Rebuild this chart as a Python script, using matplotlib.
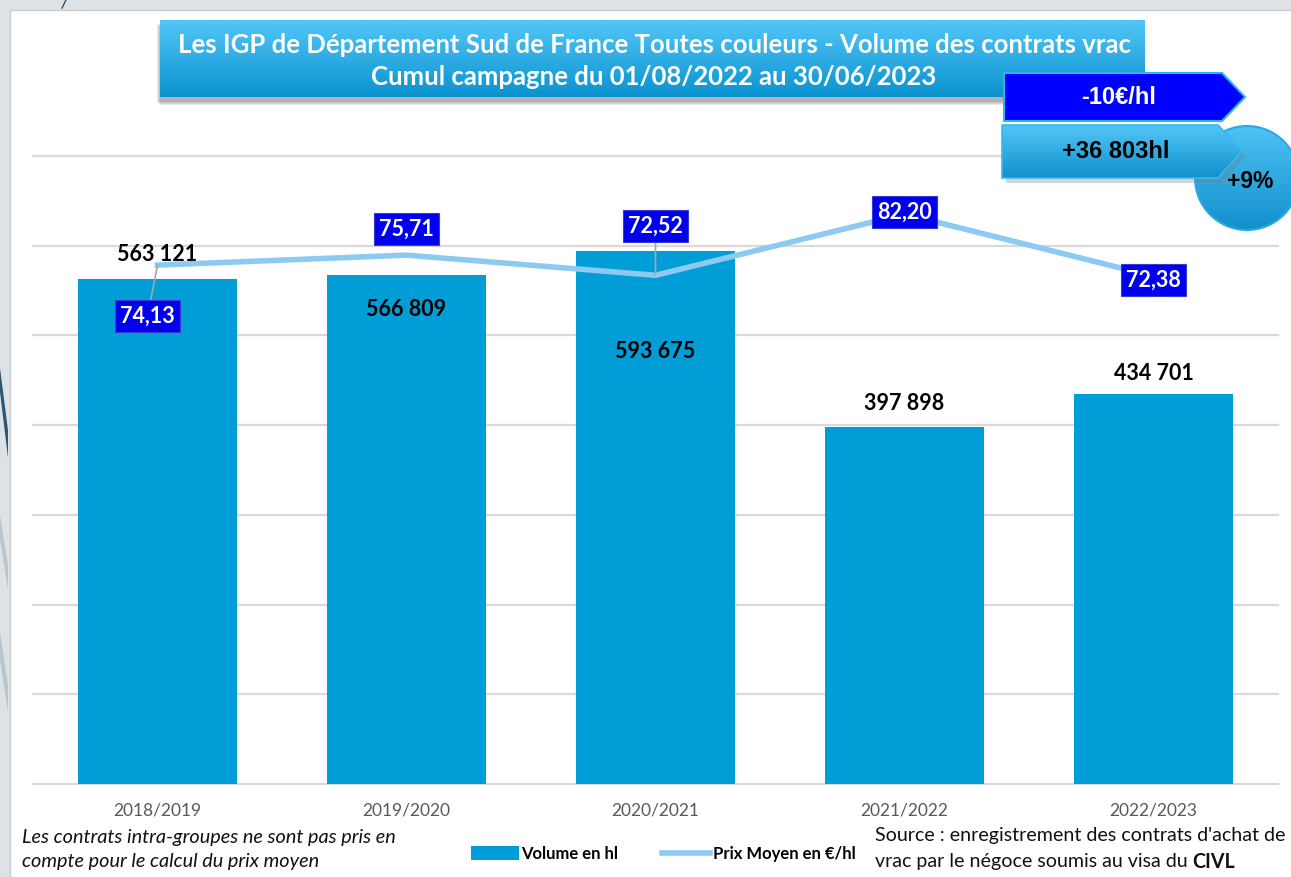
import numpy as np
import matplotlib
matplotlib.use("Agg")
import matplotlib.pyplot as plt
from matplotlib.patches import Rectangle, Polygon, Circle
from matplotlib.colors import LinearSegmentedColormap

campagnes = ["2018/2019", "2019/2020", "2020/2021", "2021/2022", "2022/2023"]
volumes_hl = [563121, 566809, 593675, 397898, 434701]
prix_moyen = [74.13, 75.71, 72.52, 82.20, 72.38]
volume_labels = ["563 121", "566 809", "593 675", "397 898", "434 701"]
prix_labels = ["74,13", "75,71", "72,52", "82,20", "72,38"]

title_lines = [
    "Les IGP de Département Sud de France Toutes couleurs - Volume des contrats vrac",
    "Cumul campagne du 01/08/2022 au 30/06/2023",
]
delta_prix = "-10€/hl"
delta_volume = "+36 803hl"
delta_pct = "+9%"

BAR = "#009dd6"
LINE = "#8ccaf2"
LABEL_BLUE = "#0000ee"
GRID = "#d9d9d9"
NARROW = ["Lato", "DejaVu Sans"]
BOLD = ["Lato", "DejaVu Sans"]
ARIAL = ["Liberation Sans", "DejaVu Sans"]

W, H = 1291, 877
fig = plt.figure(figsize=(W / 100, H / 100), dpi=100)
fig.patch.set_facecolor("#dde2e6")


def px_axes(zorder):
    a = fig.add_axes([0, 0, 1, 1], zorder=zorder)
    a.set_xlim(0, W)
    a.set_ylim(H, 0)
    a.axis("off")
    a.patch.set_alpha(0)
    return a


def gradient_fill(a, patch, top, bottom, zorder):
    patch.set_facecolor("none")
    a.add_patch(patch)
    ext = patch.get_path().transformed(patch.get_patch_transform()).get_extents()
    cmap = LinearSegmentedColormap.from_list("g", [top, bottom])
    im = a.imshow(np.linspace(0, 1, 64).reshape(-1, 1), cmap=cmap, aspect="auto",
                  extent=(ext.x0, ext.x1, ext.y1, ext.y0), zorder=zorder,
                  interpolation="bilinear")
    im.set_clip_path(patch)
    a.set_xlim(0, W)
    a.set_ylim(H, 0)


# slide background
bg = px_axes(0)
bg.add_patch(Rectangle((10, 10), W, H, facecolor="white", edgecolor="#c9ced2", lw=1))
bg.add_patch(Polygon([(0, 368), (0, 392), (8, 458), (8, 430)], facecolor="#2f5672", lw=0))
bg.add_patch(Polygon([(0, 515), (0, 540), (8, 590), (8, 565)], facecolor="#b8c6d0", lw=0))
bg.add_patch(Polygon([(0, 632), (0, 660), (8, 712), (8, 685)], facecolor="#b8c6d0", lw=0))
bg.plot([66, 62], [0, 8], color="#2f5672", lw=1)

# main chart
ax = fig.add_axes([33 / W, (H - 784) / H, (1278 - 33) / W, (784 - 156) / H], zorder=2)
ax.patch.set_alpha(0)
x = np.arange(len(campagnes))
bars = ax.bar(x, volumes_hl, width=0.64, color=BAR, zorder=2, label="Volume en hl")
ax.set_xlim(-0.5, len(campagnes) - 0.5)
ax.set_ylim(0, 700000)
ax.set_yticks(np.arange(0, 700001, 100000))
ax.yaxis.grid(True, color=GRID, lw=1.6)
ax.set_axisbelow(True)
for gl in ax.get_ygridlines():
    gl.set_clip_on(False)
ax.tick_params(axis="y", length=0, labelleft=False)
ax.set_xticks(x)
ax.set_xticklabels(campagnes, color="#595959", fontsize=12.5, family=NARROW)
ax.tick_params(axis="x", length=0, pad=13)
for s in ax.spines.values():
    s.set_visible(False)

vol_offsets = [24, -34, -100, 24, 21]
for xi, v, lab, dy in zip(x, volumes_hl, volume_labels, vol_offsets):
    ax.annotate(lab, (xi, v), xytext=(0, dy), textcoords="offset pixels",
                ha="center", va="center", fontsize=15.5, fontweight="bold",
                family=BOLD, color="black", zorder=5)

ax2 = ax.twinx()
ax2.set_ylim(-8.0, 91.4)
ax2.axis("off")
line, = ax2.plot(x, prix_moyen, color=LINE, lw=4, solid_joinstyle="miter",
                 label="Prix Moyen en €/hl", zorder=3)

prix_offsets = [(-10, -51, True), (0, 26, False), (0, 49, True), (0, 2, False), (0, -4, False)]
for xi, p, lab, (dx, dy, leader) in zip(x, prix_moyen, prix_labels, prix_offsets):
    if leader:
        ax2.annotate("", (xi, p), xytext=(dx * 0.7, dy - np.sign(dy) * 15),
                     textcoords="offset pixels",
                     arrowprops=dict(arrowstyle="-", color="#a6a6a6", lw=1.2,
                                     shrinkA=0, shrinkB=0), zorder=4)
    ax2.annotate(lab, (xi, p), xytext=(dx, dy), textcoords="offset pixels",
                 ha="center", va="center", fontsize=15.5, fontweight="bold",
                 family=BOLD, color="white", zorder=6,
                 bbox=dict(boxstyle="square,pad=0.25", fc=LABEL_BLUE, ec="#3b3bd0", lw=0.8))

# legend
fig.legend(handles=[bars, line], loc="center", bbox_to_anchor=(663 / W, 1 - 854 / H),
           ncol=2, frameon=False, handlelength=2.9, handleheight=0.9,
           columnspacing=2.6, handletextpad=0.15,
           prop=dict(family=NARROW, weight="bold", size=12))

# overlay: title box, arrows, footers
fg = px_axes(6)
for k in range(4):
    fg.add_patch(Rectangle((157 + k, 24 + k), 985, 78, facecolor="#444444", alpha=0.12, lw=0))
gradient_fill(fg, Rectangle((160, 20), 985, 77, lw=0), "#52c6f8", "#0b93cf", 7)
fg.text(654, 45, title_lines[0], ha="center", va="center", color="white",
        fontsize=18.5, fontweight="bold", family=BOLD, zorder=9)
fg.text(654, 77, title_lines[1], ha="center", va="center", color="white",
        fontsize=18.5, fontweight="bold", family=BOLD, zorder=9)

gradient_fill(fg, Circle((1247, 178), 52, lw=0), "#4ec2f5", "#1290cc", 7)
fg.add_patch(Circle((1247, 178), 52, facecolor="none", edgecolor="#2aa8e6", lw=1.5, zorder=8))
fg.text(1250, 181, delta_pct, ha="center", va="center", fontsize=16.5,
        fontweight="bold", family=ARIAL, zorder=12)

fg.add_patch(Polygon([(1004, 73), (1222, 73), (1245, 97), (1222, 121), (1004, 121)],
                     facecolor="#0000ff", edgecolor="#29b6f0", lw=1.5, zorder=9))
fg.text(1119, 98, delta_prix, ha="center", va="center", color="white", fontsize=17,
        fontweight="bold", family=ARIAL, zorder=10)

fg.add_patch(Polygon([(1006, 130), (1222, 130), (1246, 156), (1222, 183), (1006, 183)],
                     facecolor="#777777", alpha=0.3, lw=0, zorder=8))
vol_shape = [(1002, 125), (1218, 125), (1242, 151), (1218, 178), (1002, 178)]
gradient_fill(fg, Polygon(vol_shape, lw=0), "#52c6f8", "#1090cc", 9)
fg.add_patch(Polygon(vol_shape, facecolor="none", edgecolor="#3ab8ee", lw=1.2, zorder=10))
fg.text(1116, 152, delta_volume, ha="center", va="center", color="black", fontsize=17,
        fontweight="bold", family=ARIAL, zorder=11)

foot = dict(ha="left", va="center", family=NARROW, color="#111111")
fg.text(22, 838, "Les contrats intra-groupes ne sont pas pris en", fontsize=14.3,
        style="italic", **foot)
fg.text(22, 862, "compte pour le calcul du prix moyen", fontsize=14.3, style="italic", **foot)
fg.text(875, 836, "Source : enregistrement des contrats d'achat de", fontsize=14.1, **foot)
t = fg.text(875, 862, "vrac par le négoce soumis au visa du ", fontsize=14.1, **foot)
fig.canvas.draw()
x_civl = fg.transData.inverted().transform((t.get_window_extent().x1, 0))[0]
fg.text(x_civl, 862, "CIVL", fontsize=14.1, fontweight="bold", **foot)

fig.savefig("out.png", dpi=100, facecolor=fig.get_facecolor())
